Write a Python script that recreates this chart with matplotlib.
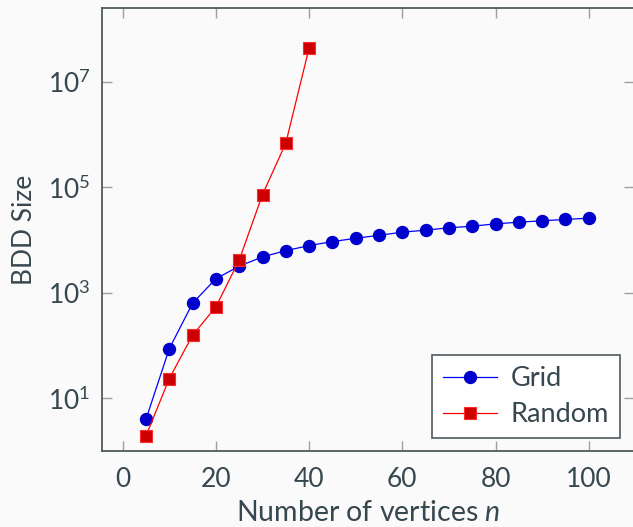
import matplotlib
matplotlib.use("Agg")
import matplotlib.pyplot as plt
from matplotlib.ticker import LogLocator, NullLocator

# BDD size vs number of vertices
grid_n = [5, 10, 15, 20, 25, 30, 35, 40, 45, 50, 55, 60, 65, 70, 75, 80, 85, 90, 95, 100]
grid_size = [4, 87, 634, 1850, 3200, 4790, 6300, 7850, 9350, 10800,
             12300, 14100, 15400, 17100, 18300, 20300, 21800, 23200, 24600, 26000]

random_n = [5, 10, 15, 20, 25, 30, 35, 40]
random_size = [1.93, 23.6, 157, 540, 4180, 73000, 690000, 4.4e7]

TEXT = "#37474f"
SPINE = "#4f5b5e"
TICK = "#9e9e9e"
BG = "#fafafa"

plt.rcParams["font.family"] = ["Lato", "DejaVu Sans"]
plt.rcParams["mathtext.fontset"] = "custom"
plt.rcParams["mathtext.rm"] = "Lato"
plt.rcParams["mathtext.it"] = "Lato:italic"

fig = plt.figure(figsize=(6.33, 5.27), dpi=100, facecolor=BG)
ax = fig.add_axes([101.7 / 633, 1 - 451.3 / 527, (634 - 101.7) / 633, (451.3 - 7.5) / 527])
ax.set_facecolor(BG)

ax.plot(grid_n, grid_size, color="#0000ff", lw=0.9, marker="o", markersize=8.6,
        markerfacecolor="#0000cc", markeredgecolor="#0000cc", label="Grid")
ax.plot(random_n, random_size, color="#ff0000", lw=0.9, marker="s", markersize=8.2,
        markerfacecolor="#cc0000", markeredgecolor="#ff2a2a", markeredgewidth=0.8,
        label="Random")

ax.set_yscale("log")
ax.set_xlim(-4.5, 109.7)
ax.set_ylim(10 ** -0.006, 10 ** 8.41)
ax.set_xticks([0, 20, 40, 60, 80, 100])
ax.yaxis.set_major_locator(LogLocator(base=100, subs=[10.0]))
ax.yaxis.set_minor_locator(NullLocator())

ax.tick_params(which="both", direction="in", length=7, width=1, color=TICK,
               top=True, right=True, labelsize=19, labelcolor=TEXT, pad=8)
ax.tick_params(axis="x", pad=11)
for s in ax.spines.values():
    s.set_color(SPINE)
    s.set_linewidth(1.3)

ax.set_xlabel("Number of vertices $n$", fontsize=20.5, color=TEXT, labelpad=6)
ax.set_ylabel("BDD Size", fontsize=19, color=TEXT, labelpad=8)

leg = ax.legend(loc="lower right", bbox_to_anchor=(0.9735, 0.03), fontsize=19.5,
                frameon=True, fancybox=False, handlelength=2.0, handletextpad=0.5,
                borderpad=0.4, labelspacing=0.4, borderaxespad=0)
leg.get_frame().set_edgecolor(SPINE)
leg.get_frame().set_linewidth(1.2)
leg.get_frame().set_facecolor("white")
leg.get_frame().set_alpha(1)
for t in leg.get_texts():
    t.set_color(TEXT)

fig.savefig("out.png", dpi=100, facecolor=BG)
